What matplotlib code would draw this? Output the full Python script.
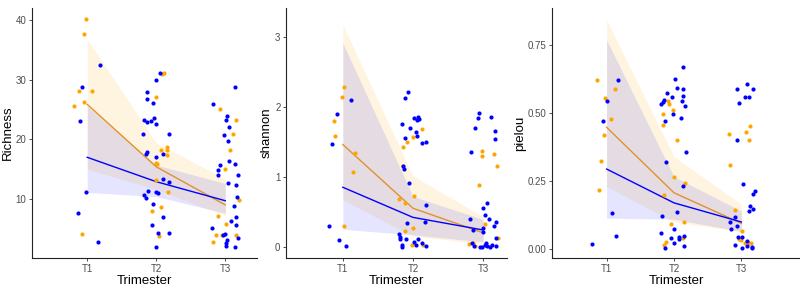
import numpy as np
import matplotlib
matplotlib.use("Agg")
import matplotlib.pyplot as plt

plt.rcParams['font.family'] = ['Liberation Sans', 'DejaVu Sans']

trimesters = ["T1", "T2", "T3"]
tri_pos = [1, 2, 3]

# ---- Richness: jittered points (x, y)
rich_orange = [(0.976, 40.3), (0.957, 37.8), (0.884, 28.2), (1.068, 28.2), (0.957, 26.3), (0.81, 25.6), (0.93, 4.1),
               (2.09, 31.0), (2.11, 31.2), (1.99, 27.1), (2.07, 18.2), (2.15, 18.8), (2.15, 18.2), (2.16, 17.4),
               (1.99, 16.0), (2.01, 15.8), (1.99, 13.1), (2.17, 11.1), (2.07, 8.7), (1.94, 7.9), (2.04, 3.8),
               (2.93, 25.1), (3.16, 23.2), (3.11, 21.0), (3.07, 18.3), (3.0, 15.0), (3.2, 9.8), (2.90, 7.2),
               (3.01, 5.8), (2.87, 4.0), (2.95, 4.0), (2.82, 2.7), (3.15, 3.9)]
rich_blue = [(1.19, 32.6), (0.93, 28.9), (0.89, 23.1), (0.98, 11.1), (0.86, 7.6), (1.15, 2.7),
             (2.05, 31.2), (1.99, 30.0), (1.87, 27.9), (1.86, 26.8), (1.96, 26.2), (1.82, 23.2), (1.86, 23.0),
             (1.92, 23.1), (1.97, 23.6), (1.99, 22.6), (1.81, 20.9), (2.18, 20.9), (1.87, 17.9), (1.85, 17.6),
             (1.99, 17.0), (2.10, 17.6), (2.10, 13.3), (2.18, 12.9), (1.99, 11.1), (2.02, 11.0), (1.88, 11.3),
             (1.85, 10.2), (1.82, 10.6), (1.96, 9.2), (2.10, 7.0), (1.94, 5.7), (2.02, 4.2), (2.19, 4.2), (2.00, 1.9),
             (2.82, 26.0), (3.14, 28.9), (3.02, 23.9), (3.01, 23.3), (3.05, 22.1), (2.98, 20.7), (3.04, 19.8),
             (3.05, 16.3), (2.93, 15.7), (3.14, 15.9), (2.89, 14.8), (2.89, 14.1), (3.19, 14.1), (3.04, 12.6),
             (3.15, 12.3), (3.17, 10.3), (3.12, 8.8), (3.16, 6.9), (3.09, 6.3), (3.16, 5.7), (2.81, 5.1),
             (3.0, 4.1), (2.97, 4.0), (3.18, 3.4), (3.03, 3.1), (3.01, 2.6), (3.01, 2.1), (3.14, 2.0)]
rich_orange_mean = [25.9, 15.4, 9.0]
rich_orange_lo = [15.0, 11.6, 7.2]
rich_orange_hi = [36.9, 19.4, 13.4]
rich_blue_mean = [17.0, 12.9, 9.7]
rich_blue_lo = [11.1, 10.4, 7.6]
rich_blue_hi = [25.6, 15.7, 12.6]

# ---- Shannon
shan_orange = [(1.02, 2.29), (0.99, 2.15), (0.87, 1.81), (0.89, 1.59), (1.18, 1.35), (1.14, 1.08), (1.02, 0.30),
               (2.13, 1.69), (2.0, 1.58), (1.92, 1.51), (1.86, 1.44), (1.86, 1.16), (2.01, 0.74), (1.80, 0.69),
               (1.88, 0.63), (1.89, 0.24), (2.0, 0.28), (1.99, 0.04), (2.14, 0.04),
               (2.98, 1.38), (2.99, 1.30), (3.15, 1.34), (3.20, 1.16), (2.94, 0.89), (3.03, 0.33), (2.80, 0.05),
               (2.86, 0.06), (2.89, 0.02), (3.21, 0.13)]
shan_blue = [(1.12, 2.10), (0.92, 1.91), (0.84, 1.48), (0.80, 0.31), (0.94, 0.10), (1.04, 0.02),
             (1.93, 2.22), (1.89, 2.13), (1.84, 1.76), (1.96, 1.71), (2.01, 1.85), (2.07, 1.87), (2.08, 1.84),
             (2.06, 1.82), (2.05, 1.65), (2.06, 1.59), (1.88, 1.57), (2.13, 1.49), (2.19, 1.51), (1.86, 1.16),
             (1.87, 1.12), (1.94, 0.92), (2.18, 0.60), (1.92, 0.35), (2.17, 0.36), (1.80, 0.19), (1.81, 0.15),
             (1.82, 0.12), (1.84, 0.04), (1.85, 0.0), (1.90, 0.12), (2.07, 0.12), (2.13, 0.07), (2.18, 0.02),
             (2.01, 0.08), (2.04, 0.03),
             (2.94, 1.92), (2.93, 1.85), (3.11, 1.87), (2.89, 1.70), (3.17, 1.67), (3.17, 1.55), (2.82, 1.36),
             (3.05, 0.64), (3.0, 0.57), (3.02, 0.47), (3.08, 0.41), (3.19, 0.37), (3.16, 0.30), (3.0, 0.28),
             (2.81, 0.40), (3.0, 0.22), (2.86, 0.25), (3.18, 0.13), (2.84, 0.06), (2.87, 0.02), (2.95, 0.0),
             (3.02, 0.04), (3.04, 0.07), (3.05, 0.02), (3.10, 0.0), (3.13, 0.04), (3.19, 0.02), (2.99, 0.01)]
shan_orange_mean = [1.47, 0.56, 0.21]
shan_orange_lo = [0.68, 0.16, 0.05]
shan_orange_hi = [3.18, 1.02, 0.44]
shan_blue_mean = [0.86, 0.43, 0.25]
shan_blue_lo = [0.26, 0.18, 0.08]
shan_blue_hi = [2.92, 0.73, 0.40]

# ---- Pielou
piel_orange = [(0.86, 0.62), (0.97, 0.556), (1.12, 0.588), (1.06, 0.478), (0.96, 0.417), (0.92, 0.322), (0.88, 0.216),
               (1.91, 0.545), (1.93, 0.533), (1.83, 0.495), (1.98, 0.51), (1.83, 0.457), (2.05, 0.402), (2.16, 0.244),
               (2.0, 0.263), (1.85, 0.198), (1.96, 0.093), (2.15, 0.099), (1.88, 0.028), (1.85, 0.017), (2.13, 0.043),
               (2.81, 0.423), (2.83, 0.308), (3.07, 0.428), (3.13, 0.450), (3.12, 0.402), (2.91, 0.145), (3.01, 0.067),
               (2.96, 0.037), (3.00, 0.034), (3.12, 0.023), (3.15, 0.022), (3.05, 0.022)]
piel_blue = [(1.17, 0.62), (1.0, 0.545), (0.95, 0.470), (1.08, 0.132), (1.14, 0.05), (0.79, 0.018),
             (2.14, 0.666), (2.02, 0.625), (2.04, 0.59), (2.14, 0.586), (1.90, 0.572), (1.97, 0.558), (2.13, 0.561),
             (1.85, 0.547), (1.84, 0.541), (1.80, 0.533), (2.12, 0.545), (2.16, 0.525), (1.99, 0.495), (1.87, 0.471),
             (2.11, 0.482), (2.18, 0.357), (1.88, 0.318), (2.14, 0.233), (2.04, 0.138), (1.82, 0.122), (2.0, 0.075),
             (1.81, 0.059), (1.96, 0.04), (2.0, 0.024), (2.07, 0.037), (1.87, 0.006), (2.15, 0.05), (2.15, 0.013),
             (2.08, 0.044),
             (2.93, 0.589), (3.09, 0.604), (3.17, 0.586), (3.05, 0.557), (3.11, 0.557), (2.96, 0.535), (2.94, 0.402),
             (3.03, 0.239), (3.17, 0.203), (3.20, 0.215), (3.13, 0.159), (3.17, 0.149), (3.11, 0.142), (2.90, 0.118),
             (2.83, 0.101), (2.84, 0.075), (2.93, 0.087), (2.95, 0.045), (3.01, 0.046), (3.08, 0.032), (2.90, 0.016),
             (3.01, 0.005), (3.08, 0.012), (3.16, 0.01), (3.16, 0.004)]
piel_orange_mean = [0.447, 0.207, 0.095]
piel_orange_lo = [0.23, 0.10, 0.065]
piel_orange_hi = [0.84, 0.34, 0.165]
piel_blue_mean = [0.294, 0.17, 0.10]
piel_blue_lo = [0.114, 0.11, 0.065]
piel_blue_hi = [0.767, 0.266, 0.14]

ORANGE = "#FFA500"
ORANGE_LINE = "#E0922A"
BLUE = "#0000FF"


def panel(ax, pts_o, pts_b, mo, lo_o, hi_o, mb, lo_b, hi_b):
	# ruban orange d'abord, le bleu par-dessus (zone commune lavande)
	ax.fill_between(tri_pos, lo_o, hi_o, color="#FFA500", alpha=0.12, lw=0)
	ax.fill_between(tri_pos, lo_b, hi_b, color="#0000FF", alpha=0.10, lw=0)
	po = np.array(pts_o)
	pb = np.array(pts_b)
	ax.scatter(po[:, 0], po[:, 1], s=9, color=ORANGE, lw=0, zorder=3)
	ax.scatter(pb[:, 0], pb[:, 1], s=9, color=BLUE, lw=0, zorder=3)
	ax.plot(tri_pos, mo, color=ORANGE_LINE, lw=1.0, zorder=2)
	ax.plot(tri_pos, mb, color=BLUE, lw=1.0, zorder=2)
	ax.set_xticks(tri_pos)
	ax.set_xticklabels(trimesters)
	for s in ["top", "right"]:
		ax.spines[s].set_visible(False)
	for s in ["left", "bottom"]:
		ax.spines[s].set_color("#222222")
		ax.spines[s].set_linewidth(0.8)
	ax.tick_params(length=2.5, width=0.6, color="#333333", labelsize=7, labelcolor="#4d4d4d", pad=1.5)
	ax.set_xlabel("Trimester", fontsize=9.5)
	ax.xaxis.set_label_coords(0.5, -0.094)
	ax.xaxis.label.set_va("center")


fig = plt.figure(figsize=(8, 2.89), dpi=100)
ax1 = fig.add_axes([0.04, 0.1073, 0.28125, 0.865])
ax2 = fig.add_axes([0.3575, 0.1073, 0.27625, 0.865])
ax3 = fig.add_axes([0.69, 0.1073, 0.31, 0.865])

panel(ax1, rich_orange, rich_blue, rich_orange_mean, rich_orange_lo, rich_orange_hi,
      rich_blue_mean, rich_blue_lo, rich_blue_hi)
ax1.set_xlim(0.2, 3.46)
ax1.set_ylim(0.07, 42.1)
ax1.set_yticks([10, 20, 30, 40])
ax1.set_ylabel("Richness", fontsize=9.5)
ax1.yaxis.set_label_coords(-0.105, 0.5)

panel(ax2, shan_orange, shan_blue, shan_orange_mean, shan_orange_lo, shan_orange_hi,
      shan_blue_mean, shan_blue_lo, shan_blue_hi)
ax2.set_xlim(0.19, 3.34)
ax2.set_ylim(-0.15, 3.42)
ax2.set_yticks([0, 1, 2, 3])
ax2.set_ylabel("shannon", fontsize=9.5)
ax2.yaxis.set_label_coords(-0.086, 0.5)

panel(ax3, piel_orange, piel_blue, piel_orange_mean, piel_orange_lo, piel_orange_hi,
      piel_blue_mean, piel_blue_lo, piel_blue_hi)
ax3.set_xlim(0.19, 3.87)
ax3.set_ylim(-0.032, 0.884)
ax3.set_yticks([0, 0.25, 0.5, 0.75])
ax3.set_yticklabels(["0.00", "0.25", "0.50", "0.75"])
ax3.set_ylabel("pielou", fontsize=9.5)
ax3.yaxis.set_label_coords(-0.13, 0.5)

for ax in (ax1, ax2, ax3):
	ax.yaxis.label.set_va("center")

plt.savefig("out.png", dpi=100)
